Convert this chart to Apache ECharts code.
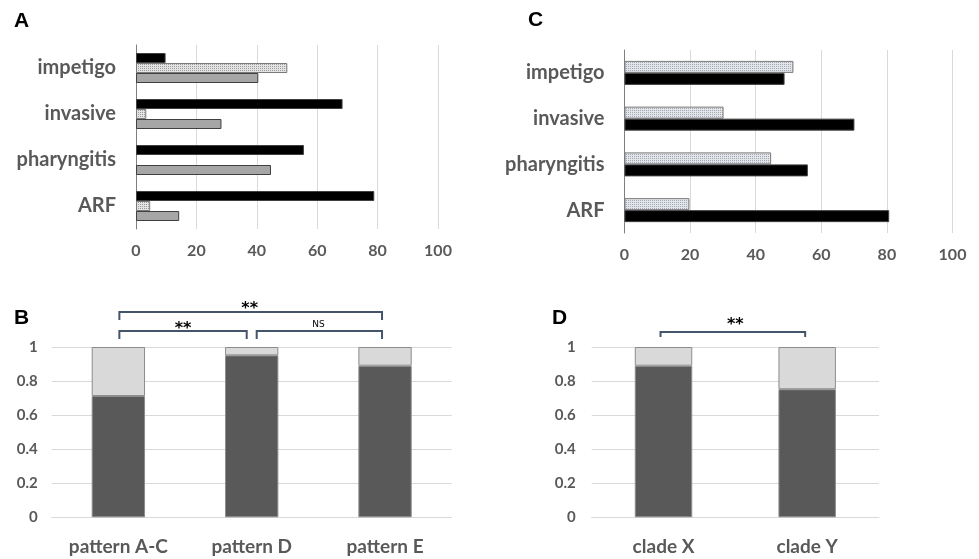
<!DOCTYPE html>
<html>
<head>
<meta charset="utf-8">
<script src="https://cdn.jsdelivr.net/npm/echarts@6/dist/echarts.min.js"></script>
<style>
  html, body { margin: 0; padding: 0; background: #fff; }
  #main { width: 979px; height: 559px; }
</style>
</head>
<body>
<div id="main"></div>
<script>
// panel A / C categories (top to bottom in the picture, listed bottom-up for the y axis)
const diseases = ["ARF", "pharyngitis", "invasive", "impetigo"];

// panel A (percent)
const aBlack = [78.9, 55.6, 68.4, 9.8];
const aDotted = [4.7, 0, 3.4, 50.1];
const aGray = [14.3, 44.7, 28.3, 40.5];

// panel C (percent)
const cDotted = [19.8, 44.7, 30.2, 51.5];
const cBlack = [80.7, 55.9, 70.1, 48.8];

// panel B (proportion)
const patterns = ["pattern A-C", "pattern D", "pattern E"];
const bDark = [0.712, 0.951, 0.89];
const bLight = [0.288, 0.049, 0.11];

// panel D (proportion)
const clades = ["clade X", "clade Y"];
const dDark = [0.89, 0.752];
const dLight = [0.11, 0.248];

function dots(bg, dot) {
  const c = document.createElement("canvas");
  c.width = 2; c.height = 2;
  const g = c.getContext("2d");
  g.fillStyle = bg; g.fillRect(0, 0, 2, 2);
  g.fillStyle = dot; g.fillRect(0, 0, 1, 1);
  return { image: c, repeat: "repeat" };
}

// zero-length bars are not drawn in the reference
const noZero = arr => arr.map(v => (v === 0 ? null : v));

const txt = "#595959";
const font = "Lato";
const gridCol = "#d9d9d9";

function pctAxis(gi) {
  return {
    type: "value", gridIndex: gi, min: 0, max: 100, interval: 20,
    axisLine: { show: false }, axisTick: { show: false },
    splitLine: { lineStyle: { color: gridCol, width: 1 } },
    axisLabel: { color: txt, fontFamily: font, fontWeight: "bold", fontSize: 16, margin: 14 }
  };
}
function catAxisY(gi) {
  return {
    type: "category", gridIndex: gi, data: diseases,
    axisLine: { lineStyle: { color: "#7f7f7f", width: 1 } }, axisTick: { show: false },
    axisLabel: { color: txt, fontFamily: font, fontWeight: "bold", fontSize: 20, margin: 20 }
  };
}
function propAxis(gi, margin) {
  return {
    type: "value", gridIndex: gi, min: 0, max: 1, interval: 0.2,
    axisLine: { show: false }, axisTick: { show: false },
    splitLine: { lineStyle: { color: gridCol, width: 1 } },
    axisLabel: { color: txt, fontFamily: font, fontWeight: "bold", fontSize: 15, margin: margin }
  };
}
function catAxisX(gi, data) {
  return {
    type: "category", gridIndex: gi, data: data,
    axisLine: { lineStyle: { color: gridCol, width: 1 } }, axisTick: { show: false },
    axisLabel: { color: txt, fontFamily: font, fontWeight: "bold", fontSize: 19, margin: 20 }
  };
}

const edge = { borderColor: "#404040", borderWidth: 1 };
const stackEdge = { borderColor: "#8c8c8c", borderWidth: 1 };

const chart = echarts.init(document.getElementById("main"), null, { renderer: "canvas" });

chart.setOption({
  animation: false,
  backgroundColor: "#fff",
  grid: [
    { left: 136, top: 45, width: 302, height: 184 },
    { left: 624.5, top: 50, width: 328, height: 183 },
    { left: 51.7, top: 347, width: 400, height: 170.3 },
    { left: 591.7, top: 347, width: 287.3, height: 170.3 }
  ],
  xAxis: [pctAxis(0), pctAxis(1), catAxisX(2, patterns), catAxisX(3, clades)],
  yAxis: [catAxisY(0), catAxisY(1), propAxis(2, 14), propAxis(3, 16)],
  series: [
    { name: "A black", type: "bar", xAxisIndex: 0, yAxisIndex: 0, data: aBlack, barWidth: 10, barGap: "0%",
      itemStyle: Object.assign({ color: "#000" }, edge) },
    { name: "A dotted", type: "bar", xAxisIndex: 0, yAxisIndex: 0, data: noZero(aDotted), barWidth: 10, barGap: "0%",
      itemStyle: { color: dots("#e4e4e4", "#9a9a9a"), borderColor: "#7a7a7a", borderWidth: 1 } },
    { name: "A gray", type: "bar", xAxisIndex: 0, yAxisIndex: 0, data: aGray, barWidth: 10, barGap: "0%",
      itemStyle: Object.assign({ color: "#a6a6a6" }, edge) },

    { name: "C dotted", type: "bar", xAxisIndex: 1, yAxisIndex: 1, data: cDotted, barWidth: 12, barGap: "0%",
      itemStyle: { color: dots("#e2e5ea", "#a4a8b0"), borderColor: "#7a7a7a", borderWidth: 1 } },
    { name: "C black", type: "bar", xAxisIndex: 1, yAxisIndex: 1, data: cBlack, barWidth: 12, barGap: "0%",
      itemStyle: Object.assign({ color: "#000" }, edge) },

    { name: "B dark", type: "bar", stack: "b", xAxisIndex: 2, yAxisIndex: 2, data: bDark, barWidth: "40%",
      itemStyle: Object.assign({ color: "#595959" }, stackEdge) },
    { name: "B light", type: "bar", stack: "b", xAxisIndex: 2, yAxisIndex: 2, data: bLight, barWidth: "40%",
      itemStyle: Object.assign({ color: "#d9d9d9" }, stackEdge) },

    { name: "D dark", type: "bar", stack: "d", xAxisIndex: 3, yAxisIndex: 3, data: dDark, barWidth: "40%",
      itemStyle: Object.assign({ color: "#595959" }, stackEdge) },
    { name: "D light", type: "bar", stack: "d", xAxisIndex: 3, yAxisIndex: 3, data: dLight, barWidth: "40%",
      itemStyle: Object.assign({ color: "#d9d9d9" }, stackEdge) }
  ]
});

// significance brackets, placed from the axes
const bc = "#44546a";
function px(gi, cat) { return chart.convertToPixel({ gridIndex: gi }, [cat, 1]); }
function bracket(x1, x2, y, drop) {
  return { type: "polyline", silent: true,
    shape: { points: [[x1, y + drop], [x1, y], [x2, y], [x2, y + drop]] },
    style: { stroke: bc, lineWidth: 2, fill: null } };
}
function label(text, x, y, size, weight) {
  return { type: "text", silent: true, x: x, y: y,
    style: { text: text, fill: "#000", font: (weight || "normal") + " " + size + "px 'DejaVu Sans'",
      align: "center", verticalAlign: "middle" } };
}
function letter(text, x, y) {
  return { type: "text", silent: true, x: x, y: y,
    style: { text: text, fill: "#000", font: "bold 21px 'Liberation Sans'", align: "left", verticalAlign: "middle" } };
}

const pAC = px(2, patterns[0]), pD = px(2, patterns[1]), pE = px(2, patterns[2]);
const cX = px(3, clades[0]), cY = px(3, clades[1]);
const top1 = pAC[1];

chart.setOption({
  graphic: [
    letter("A", 14, 21), letter("C", 528, 20), letter("B", 14, 318), letter("D", 552, 318),
    bracket(pAC[0] + 1, pE[0] - 3, top1 - 35, 8),
    label("**", (pAC[0] + pE[0]) / 2 - 2, top1 - 38, 16, "bold"),
    bracket(pAC[0] + 1, pD[0] - 5, top1 - 16, 8),
    label("**", (pAC[0] + pD[0]) / 2 - 2, top1 - 18, 16, "bold"),
    bracket(pD[0] + 5, pE[0] - 3, top1 - 16, 8),
    label("NS", (pD[0] + pE[0]) / 2, top1 - 22, 9),
    bracket(cX[0] - 3, cY[0] - 2, cX[1] - 15, 5),
    label("**", (cX[0] + cY[0]) / 2, cX[1] - 22, 16, "bold")
  ]
});
</script>
</body>
</html>
